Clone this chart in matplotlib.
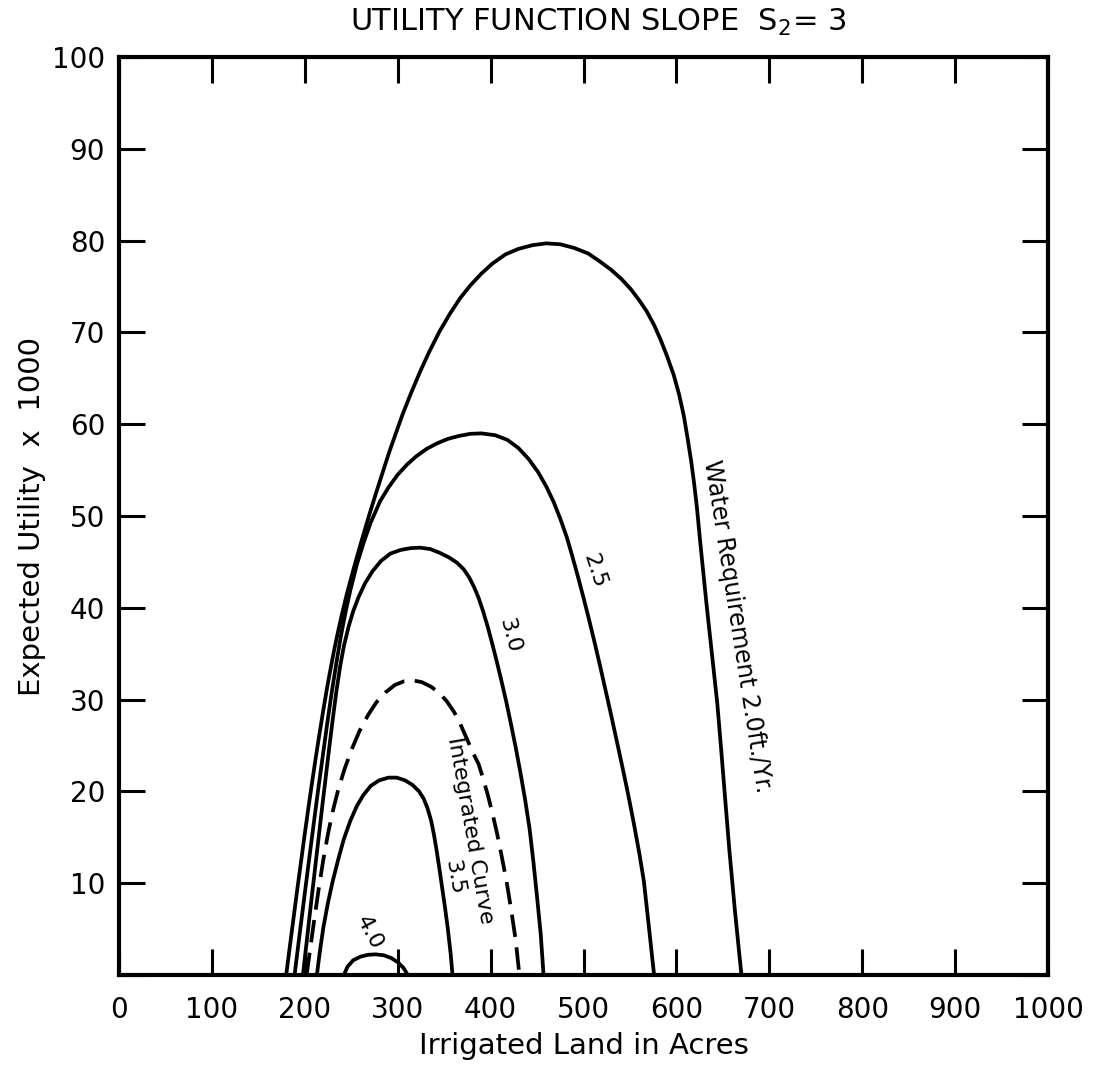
import matplotlib
matplotlib.use("Agg")
import matplotlib.pyplot as plt

plt.rcParams['font.family'] = ['DejaVu Sans']

########## DATA ##########

# water requirement 2.0 ft/yr
x_20 = [180, 184, 188, 192, 196, 200, 204, 208, 212, 216, 220, 224, 228, 232, 236, 240,
        245, 250, 256, 262, 269, 277, 284, 291, 298, 305, 314, 324, 334, 345, 356, 367,
        378, 390, 402, 416, 430, 445, 460, 475, 490, 505, 518, 530, 541, 551, 560, 568,
        576, 583, 590, 597, 603, 608, 612, 616, 619, 622, 626, 632, 638, 644, 648, 652,
        657, 663, 670]
y_20 = [0, 3.2, 6.3, 9.4, 12.4, 15.4, 18.3, 21.1, 23.8, 26.4, 28.9, 31.3, 33.5, 35.6, 37.5, 39.3,
        41.4, 43.3, 45.5, 47.6, 50.0, 52.6, 54.8, 57.0, 59.0, 61.0, 63.3, 65.7, 67.9, 70.1, 72.0, 73.7,
        75.1, 76.4, 77.5, 78.5, 79.1, 79.5, 79.7, 79.6, 79.2, 78.6, 77.7, 76.8, 75.8, 74.7, 73.5, 72.3,
        70.8, 69.2, 67.4, 65.4, 63.2, 60.9, 58.5, 55.9, 53.6, 51.0, 46.8, 40.8, 35.2, 29.6, 24.8, 19.8,
        13.6, 7.0, 0]

# 2.5
x_25 = [189, 194, 199, 204, 209, 214, 219, 224, 229, 234, 239, 244, 249, 256, 263, 271,
        281, 290, 300, 310, 320, 331, 342, 354, 365, 378, 390, 405, 418, 430, 441, 451,
        460, 468, 475, 482, 488, 494, 500, 506, 512, 518, 524, 530, 536, 542, 548, 554,
        560, 565, 570, 576]
y_25 = [0, 4.1, 8.1, 12.1, 16.0, 19.9, 23.6, 27.3, 30.8, 34.0, 37.0, 39.6, 41.9, 44.7, 47.0, 49.3,
        51.6, 53.1, 54.5, 55.6, 56.5, 57.3, 57.9, 58.4, 58.7, 58.95, 59.0, 58.8, 58.3, 57.4, 56.2, 54.8,
        53.2, 51.5, 49.7, 47.7, 45.6, 43.4, 41.1, 38.7, 36.2, 33.6, 30.9, 28.2, 25.4, 22.6, 19.7, 16.6,
        13.3, 10.2, 5.6, 0]

# 3.0
x_30 = [198, 202, 206, 210, 214, 218, 222, 226, 230, 234, 238, 242, 247, 252, 258, 265,
        273, 282, 292, 303, 314, 324, 335, 345, 355, 364, 371, 377, 382, 387, 392, 397,
        402, 407, 412, 417, 422, 427, 432, 437, 442, 446, 450, 454, 457]
y_30 = [0, 3.6, 7.2, 10.7, 14.2, 17.7, 21.1, 24.5, 27.8, 30.9, 33.6, 35.8, 37.9, 39.6, 41.2, 42.7,
        44.0, 45.1, 45.9, 46.3, 46.5, 46.55, 46.4, 46.0, 45.5, 44.9, 44.2, 43.3, 42.3, 41.1, 39.6, 37.9,
        36.0, 34.0, 31.9, 29.7, 27.3, 24.8, 22.1, 19.2, 15.9, 12.4, 8.5, 4.4, 0]

# integrated curve (dashed)
x_int = [202, 206, 210, 215, 220, 225, 230, 236, 243, 251, 259, 268, 277, 287, 297, 307,
         316, 326, 336, 345, 353, 361, 368, 375, 381, 387, 392, 397, 402, 407, 412, 417,
         422, 427, 431]
y_int = [0, 3.0, 5.9, 9.4, 12.6, 15.4, 17.8, 20.2, 22.5, 24.7, 26.6, 28.3, 29.7, 30.8, 31.6, 32.0,
         32.1, 31.9, 31.4, 30.7, 29.8, 28.6, 27.2, 25.6, 24.2, 23.0, 21.4, 19.6, 17.6, 15.4, 12.9, 10.3,
         7.2, 3.8, 0]

# 3.5
x_35 = [213, 216, 220, 225, 230, 236, 242, 249, 256, 263, 271, 280, 290, 299, 308, 316,
        323, 328, 332, 336, 339, 342, 345, 348, 351, 354, 357, 359]
y_35 = [0, 2.4, 5.2, 7.9, 10.2, 12.6, 14.8, 16.8, 18.4, 19.6, 20.6, 21.2, 21.5, 21.5, 21.2, 20.7,
        20.0, 19.2, 18.2, 16.8, 15.3, 13.5, 11.5, 9.4, 7.3, 5.0, 2.3, 0]

# 4.0
x_40 = [242, 246, 252, 260, 268, 276, 285, 293, 300, 306, 311]
y_40 = [0, 0.9, 1.6, 2.0, 2.2, 2.25, 2.15, 1.85, 1.4, 0.8, 0]

x_ticks = [0, 100, 200, 300, 400, 500, 600, 700, 800, 900, 1000]
y_ticks = [0, 10, 20, 30, 40, 50, 60, 70, 80, 90, 100]
y_tick_labels = ['', '10', '20', '30', '40', '50', '60', '70', '80', '90', '100']

########## PLOT ##########

fig = plt.figure(figsize=(11.1, 10.68), dpi=100)
ax = fig.add_axes([119/1110, 93/1068, 929/1110, 918/1068])

lw = 2.7
for xs, ys in [(x_20, y_20), (x_25, y_25), (x_30, y_30), (x_35, y_35), (x_40, y_40)]:
    ax.plot(xs, ys, color='black', lw=lw, solid_joinstyle='round')
ax.plot(x_int, y_int, color='black', lw=lw, dashes=(6, 2.8))

# curve labels
lab = dict(ha='center', va='center', rotation_mode='anchor', fontsize=16, color='black')
ax.text(665, 38.0, 'Water Requirement 2.0ft./Yr.', rotation=-81,
        **{**lab, 'fontsize': 17})
ax.text(512, 44.0, '2.5', rotation=-72, **lab)
ax.text(420, 37.0, '3.0', rotation=-75, **lab)
ax.text(378, 15.8, 'Integrated Curve', rotation=-80, **lab)
ax.text(361, 10.6, '3.5', rotation=-80, **lab)
ax.text(270, 4.6, '4.0', rotation=-62, **lab)

ax.set_xlim(0, 1000)
ax.set_ylim(0, 100)
ax.set_xticks(x_ticks)
ax.set_yticks(y_ticks)
ax.set_yticklabels(y_tick_labels)

for sp in ax.spines.values():
    sp.set_linewidth(3.0)
ax.tick_params(direction='in', length=19, width=2.2, top=True, right=True,
               labelsize=20)
ax.tick_params(axis='x', pad=15)
ax.tick_params(axis='y', pad=10)

ax.set_xlabel('Irrigated Land in Acres', fontsize=21, labelpad=6)
ax.set_ylabel('Expected Utility  x  1000', fontsize=21, labelpad=4)

fig.text(0.539, 0.979, r'UTILITY FUNCTION SLOPE  S$_2$= 3', ha='center', va='center',
         fontsize=22)

fig.savefig("out.png", dpi=100)
plt.close(fig)
